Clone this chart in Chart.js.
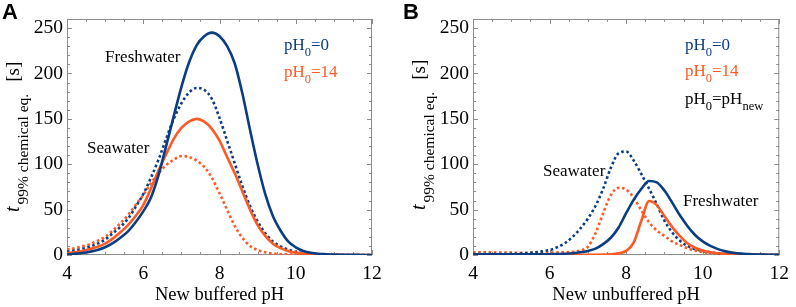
<!DOCTYPE html>
<html>
<head>
<meta charset="utf-8">
<script src="https://cdn.jsdelivr.net/npm/chart.js@4/dist/chart.umd.min.js"></script>
<style>
    html, body { margin: 0; padding: 0; background: #fff; }
    #wrap { position: relative; width: 796px; height: 307px; }
    .panel { position: absolute; top: 0; height: 307px; }
    #panel-a { left: 0; width: 400px; }
    #panel-b { left: 400px; width: 396px; }
</style>
</head>
<body>
<div id="wrap">
    <div class="panel" id="panel-a"><canvas id="chart-a"></canvas></div>
    <div class="panel" id="panel-b"><canvas id="chart-b"></canvas></div>
</div>
<script>
// pH grid shared by every curve
const pH = [
    4.0, 4.2, 4.4, 4.6, 4.8, 5.0, 5.2, 5.4, 5.6, 5.8,
    6.0, 6.2, 6.4, 6.6, 6.8, 7.0, 7.2, 7.4, 7.6, 7.8,
    8.0, 8.2, 8.4, 8.6, 8.8, 9.0, 9.2, 9.4, 9.6, 9.8,
    10.0, 10.2, 10.4, 10.6, 10.8, 11.0, 11.2, 11.4, 11.6, 11.8, 12.0
];

// Panel A - new buffered pH, t99% [s]
const bufFresh0 = [
    0.5, 1.2, 2.2, 3.6, 5.5, 8.5, 13, 19, 26, 36,
    48, 63, 88, 120, 153, 185, 212, 231, 241, 245,
    241, 230, 211, 178, 138, 100, 67, 43, 27, 15,
    8.5, 4.5, 2.4, 1.4, 0.9, 0.5, 0.3, 0.2, 0.1, 0.05, 0
];
const bufSea0 = [
    3.5, 5, 6.8, 9.2, 12.5, 17, 24, 31, 40, 53,
    67, 85, 105, 128, 150, 167, 179, 184, 182, 172,
    151, 126, 101, 76, 54, 37, 24, 15, 9.5, 6,
    3.5, 2, 1, 0.6, 0.4, 0.2, 0.1, 0.05, 0, 0, 0
];
const bufFresh14 = [
    2, 3, 4.5, 6.5, 9, 12.5, 18, 25, 33, 43,
    55, 73, 93, 111, 128, 140, 147, 150, 147, 139,
    126, 108, 90, 70, 50, 33, 21, 12.5, 7.5, 4.5,
    2.6, 1.5, 0.8, 0.5, 0.3, 0.2, 0.1, 0.05, 0, 0, 0
];
const bufSea14 = [
    6, 7.5, 9.5, 12, 15.5, 20, 27, 35, 44, 55,
    66, 79, 90, 99, 105, 109, 108, 104, 97, 85,
    68, 50, 32, 19, 10, 5.5, 3, 1.6, 0.9, 0.5,
    0.3, 0.2, 0.1, 0.05, 0, 0, 0, 0, 0, 0, 0
];

// Panel B - new unbuffered pH
const unbufFresh0 = [
    0.8, 0.8, 0.8, 0.8, 0.8, 0.8, 0.8, 0.8, 0.8, 0.8,
    0.8, 1, 1.3, 2, 3, 4.5, 7, 12, 19, 30,
    46, 61, 73, 81.5, 80, 71, 58, 44, 32, 22,
    15, 10, 6.5, 4, 2.5, 1.5, 1, 0.6, 0.4, 0.2, 0.1
];
const unbufSea0 = [
    1, 1, 1, 1, 1, 1.2, 1.5, 2, 2.8, 4,
    5.5, 8.5, 13, 20, 29, 40, 54, 73, 96, 112,
    114, 104, 89, 73, 56, 38, 25, 16, 10, 6.5,
    4.5, 3, 1.8, 1, 0.6, 0.4, 0.3, 0.2, 0.1, 0.1, 0.1
];
const unbufFresh14 = [
    0.3, 0.3, 0.3, 0.3, 0.3, 0.3, 0.3, 0.3, 0.3, 0.3,
    0.3, 0.3, 0.3, 0.3, 0.3, 0.3, 0.3, 0.4, 0.8, 1.8,
    4.5, 14, 38, 59.5, 55, 43, 31, 21, 13, 8,
    5, 3, 2, 1.2, 0.7, 0.4, 0.2, 0.1, 0.1, 0, 0
];
const unbufSea14 = [
    3, 3, 3, 2.8, 2.7, 2.6, 2.5, 2.5, 2.5, 2.5,
    2.6, 2.8, 3, 3.5, 5, 9, 24, 46, 66, 74,
    72, 63, 49, 36, 27, 21, 15, 11, 7.5, 5,
    3.2, 2.2, 1.4, 0.9, 0.6, 0.4, 0.3, 0.2, 0.1, 0.1, 0.1
];

const xTicks = [4, 6, 8, 10, 12];
const yTicks = [0, 50, 100, 150, 200, 250];

const BLUE = "#0b3d82";
const ORANGE = "#fd5a25";
const SERIF = "'Liberation Serif', 'DejaVu Serif', serif";

function points(values) {
    return values.map((v, i) => ({ x: pH[i], y: v }));
}

function curve(values, color, dotted) {
    return {
        data: points(values),
        borderColor: color,
        backgroundColor: color,
        borderWidth: 2.6,
        borderDash: dotted ? [2.6, 2.6] : [],
        pointRadius: 0,
        cubicInterpolationMode: "monotone",
        fill: false,
    };
}

// draw text pieces one after another (used for subscripts)
function richText(ctx, x, y, parts) {
    let cx = x;
    parts.forEach((p) => {
        ctx.font = (p.italic ? "italic " : "") + p.size + "px " + SERIF;
        ctx.fillStyle = p.color || "#000";
        ctx.fillText(p.t, cx, y + (p.dy || 0));
        cx += ctx.measureText(p.t).width + (p.gap || 0);
    });
}

// frame with inward major/minor ticks on all four sides
const frameTicks = {
    id: "frameTicks",
    beforeDatasetsDraw(chart) {
        const { ctx, chartArea: a, scales: { x, y } } = chart;
        ctx.save();
        ctx.strokeStyle = "#8c8c8c";
        ctx.lineWidth = 1;
        ctx.strokeRect(a.left + 0.5, a.top + 0.5, a.right - a.left - 1, a.bottom - a.top - 1);
        ctx.beginPath();
        for (let i = 0; i <= 16; i++) {
            const v = 4 + i * 0.5;
            const px = Math.round(x.getPixelForValue(v)) + 0.5;
            const len = i % 4 === 0 ? 5 : 3;
            ctx.moveTo(px, a.bottom);
            ctx.lineTo(px, a.bottom - len);
            ctx.moveTo(px, a.top);
            ctx.lineTo(px, a.top + len);
        }
        for (let v = 0; v <= 260; v += 10) {
            const py = Math.round(y.getPixelForValue(v)) + 0.5;
            const len = v % 50 === 0 ? 5 : 3;
            ctx.moveTo(a.left, py);
            ctx.lineTo(a.left + len, py);
            ctx.moveTo(a.right, py);
            ctx.lineTo(a.right - len, py);
        }
        ctx.stroke();
        ctx.restore();
    },
};

// panel letter, rotated y title and the in-plot notes
const notes = {
    id: "notes",
    afterDatasetsDraw(chart) {
        const o = chart.options.plugins.notes;
        const ctx = chart.ctx;
        ctx.save();
        ctx.textBaseline = "alphabetic";
        ctx.textAlign = "left";

        ctx.font = "bold 22px 'Liberation Sans', Arial, sans-serif";
        ctx.fillStyle = "#000";
        ctx.fillText(o.letter, o.letterX, 19);

        ctx.save();
        ctx.translate(o.titleX, o.titleY);
        ctx.rotate(-Math.PI / 2);
        richText(ctx, 0, 0, [
            { t: "t", size: 20, italic: true, gap: 2 },
            { t: "99% chemical eq.", size: 15.5, dy: 9, gap: 12 },
            { t: "[s]", size: 19 },
        ]);
        ctx.restore();

        o.items.forEach((it) => richText(ctx, it.x, it.y, it.parts));
        ctx.restore();
    },
};

function makeChart(canvasId, datasets, xTitle, layout, noteOpts) {
    const canvas = document.getElementById(canvasId);
    if (!canvas) {
        return null;
    }
    return new Chart(canvas, {
        type: "line",
        data: { datasets: datasets },
        options: {
            responsive: true,
            maintainAspectRatio: false,
            animation: false,
            layout: {
                padding: { top: 19, left: 0, right: layout.right, bottom: 0 },
            },
            scales: {
                x: {
                    type: "linear",
                    min: 4,
                    max: 12,
                    grid: { display: false, drawTicks: false },
                    border: { display: false },
                    afterBuildTicks: (s) => {
                        s.ticks = xTicks.map((v) => ({ value: v }));
                    },
                    afterFit: (s) => {
                        s.height = 52;
                    },
                    ticks: {
                        color: "#000",
                        padding: 7,
                        font: { family: SERIF, size: 19.5 },
                    },
                    title: {
                        display: true,
                        text: xTitle,
                        color: "#000",
                        font: { family: SERIF, size: 18.5 },
                        padding: { top: 0, bottom: 1 },
                    },
                },
                y: {
                    min: 0,
                    max: 260,
                    grid: { display: false, drawTicks: false },
                    border: { display: false },
                    afterBuildTicks: (s) => {
                        s.ticks = yTicks.map((v) => ({ value: v }));
                    },
                    afterFit: (s) => {
                        s.width = layout.axisLeft;
                    },
                    ticks: {
                        color: "#000",
                        padding: 4,
                        font: { family: SERIF, size: 19.5 },
                    },
                },
            },
            plugins: {
                legend: { display: false },
                tooltip: { enabled: false },
                notes: noteOpts,
            },
        },
        plugins: [frameTicks, notes],
    });
}

makeChart(
    "chart-a",
    [
        curve(bufFresh0, BLUE, false),
        curve(bufFresh14, ORANGE, false),
        curve(bufSea0, BLUE, true),
        curve(bufSea14, ORANGE, true),
    ],
    "New buffered pH",
    { axisLeft: 67, right: 28 },
    {
        letter: "A",
        letterX: 2,
        titleX: 19,
        titleY: 212,
        items: [
            { x: 105, y: 62, parts: [{ t: "Freshwater", size: 17 }] },
            { x: 87, y: 153, parts: [{ t: "Seawater", size: 17 }] },
            {
                x: 284, y: 50, parts: [
                    { t: "pH", size: 17, color: BLUE },
                    { t: "0", size: 12.5, dy: 6, color: BLUE },
                    { t: "=0", size: 17, color: BLUE },
                ],
            },
            {
                x: 284, y: 77, parts: [
                    { t: "pH", size: 17, color: ORANGE },
                    { t: "0", size: 12.5, dy: 6, color: ORANGE },
                    { t: "=14", size: 17, color: ORANGE },
                ],
            },
        ],
    }
);

makeChart(
    "chart-b",
    [
        curve(unbufFresh0, BLUE, false),
        curve(unbufFresh14, ORANGE, false),
        curve(unbufSea0, BLUE, true),
        curve(unbufSea14, ORANGE, true),
    ],
    "New unbuffered pH",
    { axisLeft: 73, right: 10 },
    {
        letter: "B",
        letterX: 3,
        titleX: 25,
        titleY: 210,
        items: [
            { x: 143, y: 176, parts: [{ t: "Seawater", size: 17 }] },
            { x: 283, y: 206, parts: [{ t: "Freshwater", size: 17 }] },
            {
                x: 285, y: 50, parts: [
                    { t: "pH", size: 17, color: BLUE },
                    { t: "0", size: 12.5, dy: 6, color: BLUE },
                    { t: "=0", size: 17, color: BLUE },
                ],
            },
            {
                x: 285, y: 76, parts: [
                    { t: "pH", size: 17, color: ORANGE },
                    { t: "0", size: 12.5, dy: 6, color: ORANGE },
                    { t: "=14", size: 17, color: ORANGE },
                ],
            },
            {
                x: 285, y: 104, parts: [
                    { t: "pH", size: 17 },
                    { t: "0", size: 12.5, dy: 6 },
                    { t: "=pH", size: 17 },
                    { t: "new", size: 12.5, dy: 6 },
                ],
            },
        ],
    }
);
</script>
</body>
</html>
